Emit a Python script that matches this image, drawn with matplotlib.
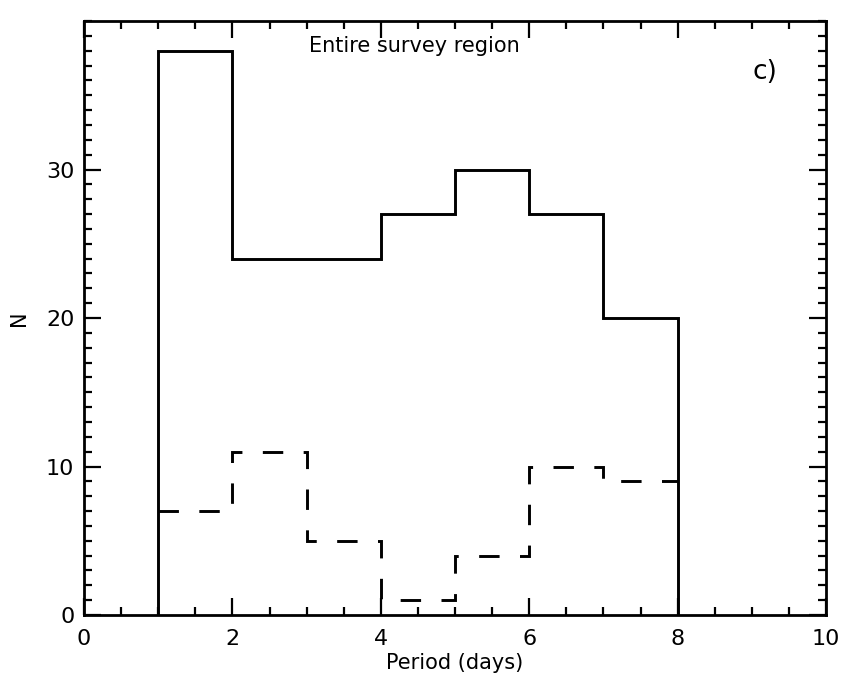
import numpy as np
import matplotlib
matplotlib.use("Agg")
import matplotlib.pyplot as plt
from matplotlib.ticker import MultipleLocator

# bin edges (days) and counts
edges = [1, 2, 3, 4, 5, 6, 7, 8]
n_all = [38, 24, 24, 27, 30, 27, 20]
n_sub = [7, 11, 5, 1, 4, 10, 9]

x_ticks = [0, 2, 4, 6, 8, 10]
y_ticks = [0, 10, 20, 30]

plt.rcParams["font.family"] = "DejaVu Sans"

fig = plt.figure(figsize=(8.41, 6.89), dpi=100)
ax = fig.add_axes([0.0999, 0.1074, 0.8823, 0.8621])

ax.stairs(n_all, edges, baseline=0, color="black", lw=2.1)
ax.stairs(n_sub, edges, baseline=None, color="black", lw=2.1,
          linestyle=(0, (7, 7)))

ax.set_xlim(0, 10)
ax.set_ylim(0, 40)
ax.set_xticks(x_ticks)
ax.set_yticks(y_ticks)
ax.xaxis.set_minor_locator(MultipleLocator(0.5))
ax.yaxis.set_minor_locator(MultipleLocator(1))
ax.tick_params(which="both", direction="in", top=True, right=True,
               width=1.6, labelsize=16, colors="black")
ax.tick_params(axis="x", pad=10)
ax.tick_params(axis="y", pad=7)
ax.tick_params(which="major", length=12)
ax.tick_params(which="minor", length=6)
for s in ax.spines.values():
    s.set_linewidth(2.0)

ax.set_xlabel("Period (days)", fontsize=15, labelpad=3)
ax.set_ylabel("N", fontsize=15, labelpad=12)

ax.text(4.45, 38.3, "Entire survey region", fontsize=15, ha="center", va="center")
ax.text(9.18, 36.6, "c)", fontsize=19, ha="center", va="center")

fig.savefig("out.png", dpi=100)
